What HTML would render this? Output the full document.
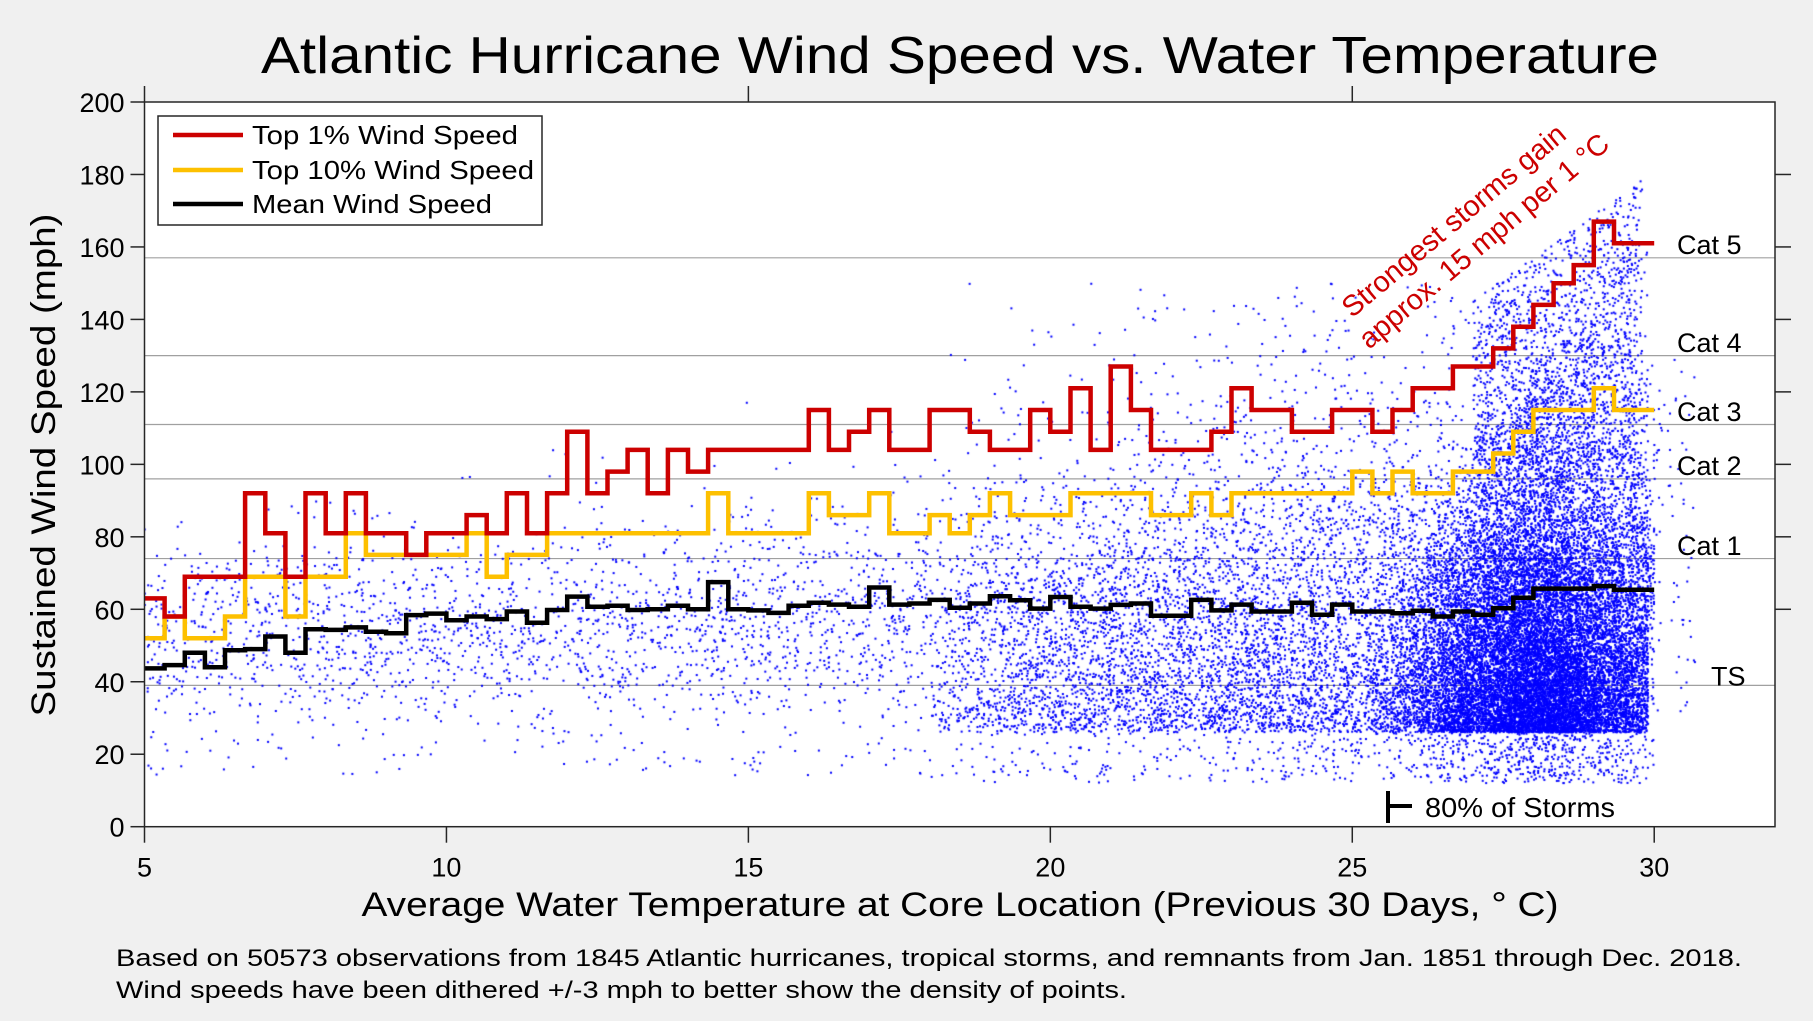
<!DOCTYPE html>
<html><head><meta charset="utf-8">
<style>
html,body{margin:0;padding:0;background:#f0f0f0;}
#wrap{position:relative;width:1813px;height:1021px;overflow:hidden;font-family:"Liberation Sans",Arial,sans-serif;}
#wrap svg,#wrap canvas{position:absolute;left:0;top:0;}
</style></head>
<body>
<div id="wrap">
<svg id="under" width="1813" height="1021"></svg>
<canvas id="scatter" width="1813" height="1021"></canvas>
<svg id="over" width="1813" height="1021"></svg>
</div>
<script>
// ---- data ----
const binStart = 5, binWidth = 1/3;
const top1 = [63,58,69,69,69,92,81,69,92,81,92,81,81,75,81,81,86,81,92,81,92,109,92,98,104,92,104,98,104,104,104,104,104,115,104,109,115,104,104,115,115,109,104,104,115,109,121,104,127,115,104,104,104,109,121,115,115,109,109,115,115,109,115,121,121,127,127,132,138,144,150,155,167,161,161];
const top10 = [52,58,52,52,58,69,69,58,69,69,81,75,75,75,75,75,81,69,75,75,81,81,81,81,81,81,81,81,92,81,81,81,81,92,86,86,92,81,81,86,81,86,92,86,86,86,92,92,92,92,86,86,92,86,92,92,92,92,92,92,98,92,98,92,92,98,98,103,109,115,115,115,121,115,115];
const meanWind = [43.7,44.6,48,44,48.7,49,52.5,48,54.5,54.3,55,53.8,53.4,58.4,58.8,57,58,57.3,59.4,56.3,59.8,63.5,60.7,61,59.8,60,61,60,67.5,60,59.7,59,61,61.8,61.3,60.7,66,61.3,61.6,62.6,60.4,61.6,63.6,62.5,60.2,63.4,60.7,60.2,61.2,61.6,58.2,58.2,62.6,59.7,61.3,59.4,59.4,61.8,58.5,61.3,59.4,59.4,58.9,59.6,58,59.4,58.5,60.3,63.2,65.7,65.7,65.7,66.4,65.4,65.4];
const yTicks = [0,20,40,60,80,100,120,140,160,180,200];
const xTicks = [5,10,15,20,25,30];
const catNames = ["Cat 5","Cat 4","Cat 3","Cat 2","Cat 1","TS"];
const catLevels = [157,130,111,96,74,39];
const catLabelY = [158,131,112,97,75,39];

// ---- axes ----
const X0=144.5, X1=1775, Y0=826.7, Y1=102;
const xMin=5, xMax=32, yMin=0, yMax=200;
const xs = t => X0 + (t-xMin)/(xMax-xMin)*(X1-X0);
const ys = v => Y0 - (v-yMin)/(yMax-yMin)*(Y0-Y1);
const NS="http://www.w3.org/2000/svg";
function mk(parent, tag, attrs){const e=document.createElementNS(NS,tag);for(const k in attrs)e.setAttribute(k,attrs[k]);parent.appendChild(e);return e;}

const under=document.getElementById('under');
const bg=mk(under,'rect',{x:X0,y:Y1,width:X1-X0,height:Y0-Y1,fill:'#ffffff'});


catLevels.forEach((v,i)=>{
  const l=mk(under,'line',{x1:X0,x2:X1,y1:ys(v),y2:ys(v),stroke:'#a0a0a0','stroke-width':1.2});
  
  
});

// ---- scatter (dithered observations, seeded) ----
let seed=12345;
function rnd(){seed|=0;seed=seed+0x6D2B79F5|0;let t=Math.imul(seed^seed>>>15,1|seed);t=t+Math.imul(t^t>>>7,61|t)^t;return((t^t>>>14)>>>0)/4294967296;}
function gauss(){return Math.sqrt(-2*Math.log(rnd()+1e-9))*Math.cos(2*Math.PI*rnd());}
const cv=document.getElementById('scatter');
const ctx=cv.getContext('2d');
ctx.save();ctx.beginPath();ctx.rect(X0,Y1,X1-X0,Y0-Y1);ctx.clip();
ctx.fillStyle='#0000ff';
function pt(t,w){if(t<5)return;ctx.fillRect(xs(t)-1,ys(w)-1,2,2);}
// sparse observations across all temperatures
for(let i=0;i<5200;i++){const t=30-25*Math.pow(rnd(),1.4);
  let w=22+ (rnd()+rnd())*0.5*(55+1.2*(t-5)) ;
  if(rnd()<0.15)w=w+rnd()*30;
  if(rnd()<0.04)w=14+rnd()*10;
  if(w>135)continue;pt(t,w);}
// mid temperatures
for(let i=0;i<5200;i++){const t=18+9*Math.pow(rnd(),0.7);let w=26+(-Math.log(rnd()+1e-9))*(24+1.5*(t-18));if(rnd()<0.04)w=12+rnd()*14;if(w>150)continue;pt(t,w);}
// warm dense block
for(let i=0;i<17000;i++){let t=28.1+gauss()*1.0;if(t>29.9)t=29.9-rnd()*0.6;if(t<25.2)continue;
  const top=40+(t-25)*25;let w=26+(-Math.log(rnd()+1e-9))*(t>27?34:26);if(w>top+20*rnd())w=26+rnd()*50;if(rnd()<0.025)w=12+rnd()*14;pt(t,w);}
// upper fringe
for(let i=0;i<1300;i++){const t=27+2.8*rnd();const w=100+rnd()*(45+(t-27)*12);pt(t,w);}
for(let i=0;i<150;i++){const t=29.3+rnd()*1.4;pt(t,30+rnd()*100);}
ctx.restore();

// ---- foreground ----
const over=document.getElementById('over');
function stepPath(vals){let d='';vals.forEach((v,i)=>{const xa=xs(binStart+i*binWidth),xb=xs(binStart+(i+1)*binWidth),y=ys(v);d+=(i===0?'M':'L')+xa.toFixed(1)+','+y.toFixed(1)+'L'+xb.toFixed(1)+','+y.toFixed(1);});return d;}
const pm=mk(over,'path',{d:stepPath(meanWind),fill:'none',stroke:'#000000','stroke-width':4.5,'stroke-linejoin':'miter'});


const p10=mk(over,'path',{d:stepPath(top10),fill:'none',stroke:'#fdc000','stroke-width':4.5});


const p1=mk(over,'path',{d:stepPath(top1),fill:'none',stroke:'#cc0000','stroke-width':4.5});



// axis frame
const frame=mk(over,'rect',{x:X0,y:Y1,width:X1-X0,height:Y0-Y1,fill:'none',stroke:'#262626','stroke-width':1.5});


yTicks.forEach(v=>{
  const l=mk(over,'line',{x1:X0-14,x2:X0,y1:ys(v),y2:ys(v),stroke:'#262626','stroke-width':1.5});
  
  
  const t=mk(over,'text',{x:X0-20,y:ys(v)+10,'text-anchor':'end','font-size':27,fill:'#000'});
  t.textContent=v;
  
  
  if(v>=60&&v<=180){const r=mk(over,'line',{x1:X1,x2:X1+16,y1:ys(v),y2:ys(v),stroke:'#262626','stroke-width':1.5});
  
  }
});
xTicks.forEach(v=>{
  const l=mk(over,'line',{x1:xs(v),x2:xs(v),y1:Y0,y2:Y0+16,stroke:'#262626','stroke-width':1.5});
  
  
  const t=mk(over,'text',{x:xs(v),y:Y0+50,'text-anchor':'middle','font-size':27,fill:'#000'});
  t.textContent=v;
  
  
});
[5,15,25].forEach(v=>{const l=mk(over,'line',{x1:xs(v),x2:xs(v),y1:Y1-16,y2:Y1,stroke:'#262626','stroke-width':1.5});
  
  });

catNames.forEach((n,i)=>{
  const t=mk(over,'text',{x:n==='TS'?1711:1677,y:ys(catLabelY[i]),'font-size':27,fill:'#000'});
  t.textContent=n;
  
  
});
</script>
<svg width="1813" height="1021" style="position:absolute;left:0;top:0" font-family="Liberation Sans, Arial, sans-serif">
  <text x="960" y="73" text-anchor="middle" font-size="52" textLength="1398" lengthAdjust="spacingAndGlyphs">Atlantic Hurricane Wind Speed vs. Water Temperature</text>
  <text x="960" y="916" text-anchor="middle" font-size="34" textLength="1197" lengthAdjust="spacingAndGlyphs">Average Water Temperature at Core Location (Previous 30 Days, ° C)</text>
  <text transform="translate(55,465) rotate(-90)" text-anchor="middle" font-size="34" textLength="503" lengthAdjust="spacingAndGlyphs">Sustained Wind Speed (mph)</text>
  <text x="116" y="966" font-size="24" textLength="1626" lengthAdjust="spacingAndGlyphs">Based on 50573 observations from 1845 Atlantic hurricanes, tropical storms, and remnants from Jan. 1851 through Dec. 2018.</text>
  <text x="116" y="998" font-size="24" textLength="1011" lengthAdjust="spacingAndGlyphs">Wind speeds have been dithered +/-3 mph to better show the density of points.</text>
  <g>
    <rect x="158" y="116" width="384" height="109" fill="#fff" stroke="#262626" stroke-width="1.5"/>
    <line x1="173" x2="243" y1="135" y2="135" stroke="#cc0000" stroke-width="4.5"/>
    <text x="252" y="144" font-size="26" textLength="266" lengthAdjust="spacingAndGlyphs">Top 1% Wind Speed</text>
    <line x1="173" x2="243" y1="170" y2="170" stroke="#fdc000" stroke-width="4.5"/>
    <text x="252" y="179" font-size="26" textLength="282" lengthAdjust="spacingAndGlyphs">Top 10% Wind Speed</text>
    <line x1="173" x2="243" y1="204" y2="204" stroke="#000" stroke-width="4.5"/>
    <text x="252" y="213" font-size="26" textLength="240" lengthAdjust="spacingAndGlyphs">Mean Wind Speed</text>
  </g>
  <g transform="translate(1460,228) rotate(-40)">
    <text x="0" y="0" text-anchor="middle" font-size="29" fill="#cc0000">Strongest storms gain</text>
    <text x="10" y="35" text-anchor="middle" font-size="29" fill="#cc0000">approx. 15 mph per 1 °C</text>
  </g>
  <g>
    <line x1="1388" x2="1388" y1="791" y2="823" stroke="#000" stroke-width="4"/>
    <line x1="1388" x2="1412" y1="806" y2="806" stroke="#000" stroke-width="4"/>
    <text x="1425" y="817" font-size="28" textLength="190" lengthAdjust="spacingAndGlyphs">80% of Storms</text>
  </g>
</svg>
</body></html>
